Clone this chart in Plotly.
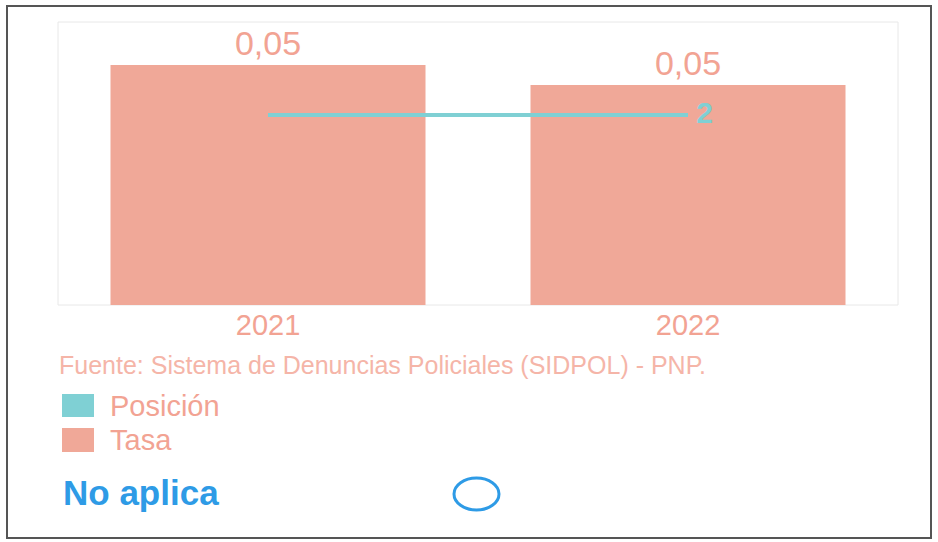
import plotly.graph_objects as go

# ---- data ----
years = ["2021", "2022"]
tasa = [0.054, 0.0495]
posicion = [2, 2]
pos_labels = ["", "2"]
legend_names = ["Posición", "Tasa"]
fuente = "Fuente: Sistema de Denuncias Policiales (SIDPOL) - PNP."
nota = "No aplica"

# ---- styles ----
SALMON = "#F0A898"
SALMON_TXT = "#F2A393"
TEAL = "#7FD0D4"
BLUE = "#2E9BE6"
FONT = "Liberation Sans, Arial, sans-serif"

W, H = 938, 542
L, R, T, B = 58, 40, 22, 237
PW, PH = W - L - R, H - T - B


def px(x):
    return (x - L) / PW


def py(y):
    return (H - B - y) / PH


fig = go.Figure()
fig.add_trace(go.Bar(
    x=years, y=tasa, name=legend_names[1],
    marker=dict(color=SALMON, line=dict(width=0)),
    texttemplate="%{y:.2f}", textposition="outside",
    textfont=dict(color=SALMON_TXT, size=34, family=FONT),
    cliponaxis=False, showlegend=False,
))
fig.add_trace(go.Scatter(
    x=years, y=posicion, name=legend_names[0], yaxis="y2",
    mode="lines+text", text=pos_labels, texttemplate=" %{text}",
    textposition="middle right",
    line=dict(color=TEAL, width=4),
    textfont=dict(color=TEAL, size=30, family=FONT, weight="bold"),
    cliponaxis=False, showlegend=False,
))

shapes = [
    # outer frame
    dict(type="rect", xref="paper", yref="paper",
         x0=px(7), x1=px(931), y0=py(538), y1=py(6),
         line=dict(color="#555555", width=2), fillcolor="rgba(0,0,0,0)", layer="below"),
    # faint plot frame
    dict(type="rect", xref="paper", yref="paper",
         x0=0, x1=1, y0=0, y1=1,
         line=dict(color="#E8E8E8", width=1), fillcolor="rgba(0,0,0,0)", layer="below"),
    # legend swatches
    dict(type="rect", xref="paper", yref="paper",
         x0=px(62), x1=px(94), y0=py(417), y1=py(394),
         line=dict(width=0), fillcolor=TEAL),
    dict(type="rect", xref="paper", yref="paper",
         x0=px(62), x1=px(94), y0=py(452), y1=py(428),
         line=dict(width=0), fillcolor=SALMON),
    # circle
    dict(type="circle", xref="paper", yref="paper",
         x0=px(454), x1=px(499), y0=py(510), y1=py(478),
         line=dict(color=BLUE, width=3), fillcolor="rgba(0,0,0,0)"),
]

annotations = [
    dict(text=fuente, xref="paper", yref="paper", x=px(57), y=py(365),
         xanchor="left", yanchor="middle", showarrow=False,
         font=dict(color="#F5B5A8", size=25, family=FONT)),
    dict(text=legend_names[0], xref="paper", yref="paper", x=px(108), y=py(406),
         xanchor="left", yanchor="middle", showarrow=False,
         font=dict(color=SALMON_TXT, size=29, family=FONT)),
    dict(text=legend_names[1], xref="paper", yref="paper", x=px(108), y=py(440),
         xanchor="left", yanchor="middle", showarrow=False,
         font=dict(color=SALMON_TXT, size=29, family=FONT)),
    dict(text="<b>" + nota + "</b>", xref="paper", yref="paper", x=px(61), y=py(492),
         xanchor="left", yanchor="middle", showarrow=False,
         font=dict(color=BLUE, size=35, family=FONT)),
]

fig.update_layout(
    width=W, height=H,
    margin=dict(l=L, r=R, t=T, b=B, pad=0),
    paper_bgcolor="white", plot_bgcolor="white",
    separators=",.",
    bargap=0.25,
    showlegend=False,
    font=dict(family=FONT),
    xaxis=dict(showgrid=False, showline=False, zeroline=False, ticks="",
               tickfont=dict(color=SALMON_TXT, size=29, family=FONT)),
    yaxis=dict(range=[0, 0.0637], visible=False, showgrid=False),
    yaxis2=dict(range=[0, 2.98], overlaying="y", visible=False, showgrid=False),
    shapes=shapes,
    annotations=annotations,
)

fig.write_html("out.html", config={"displayModeBar": False},
               post_script="document.body.style.margin='0';")
